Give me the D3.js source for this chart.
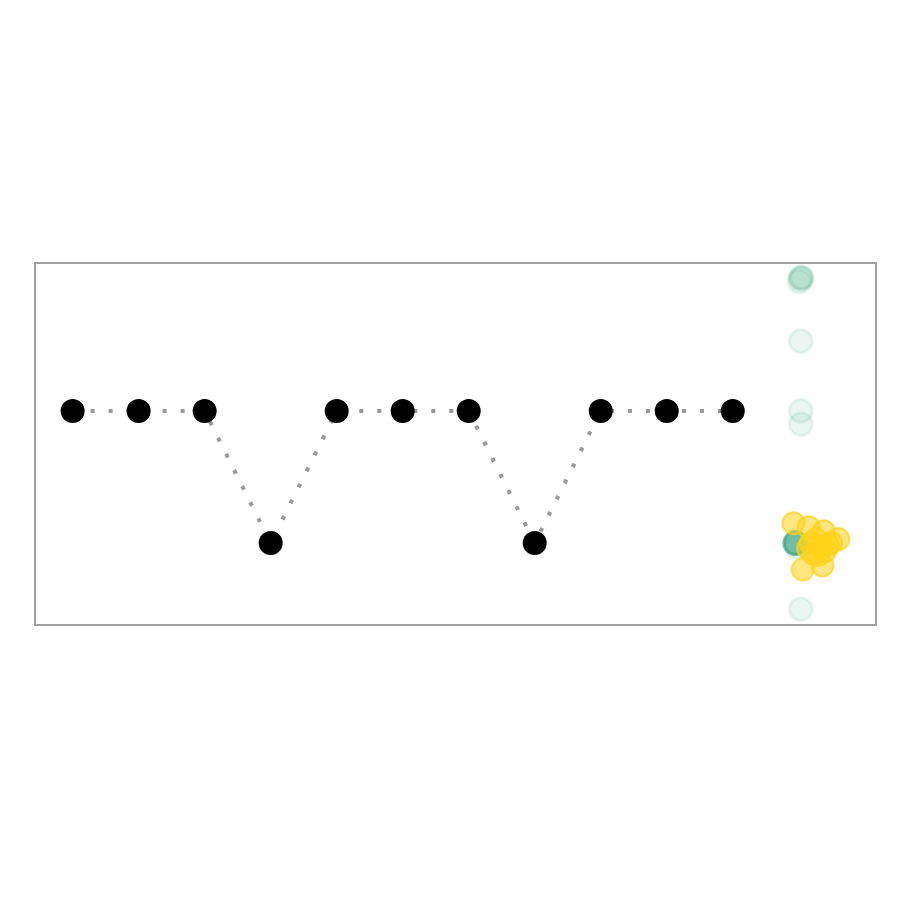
<!DOCTYPE html>
<html><head><meta charset="utf-8">
<script src="https://cdn.jsdelivr.net/npm/d3@7"></script>
<style>body{margin:0;background:#fff}</style>
</head><body>
<svg id="c" width="900" height="900"></svg>
<script>
// sequence of states (index -> level)
const seqIndex = [0,1,2,3,4,5,6,7,8,9,10];
const seqLevel = [1,1,1,0,1,1,1,0,1,1,1];
// teal distribution points at position 11
const tealX = [11.03,11.05,11.01,11.03,11.03,11.03,11.03,10.95,10.95,10.95,10.95,10.95,10.95,10.95,10.95,10.95,10.95,10.97,11.03];
const tealY = [2,2.01,1.98,2.01,1.53,1,0.9,0,0,0,0,0,0,0,0,0,0,-0.03,-0.5];
// yellow jittered points
const yellowX = [10.92,11.15,11.38,11.6,11.06,11.36,11.18,11.44,11.30,11.14,11.49,11.26,11.33,11.40,11.22];
const yellowY = [0.15,0.12,0.09,0.03,-0.2,-0.17,0.0,-0.015,-0.09,-0.04,0.0,0.03,-0.03,-0.06,-0.08];

const svg = d3.select('#c');
const pL=35, pR=876, pT=263, pB=625;
const x = d3.scaleLinear().domain([-0.57,12.17]).range([pL,pR]);
const y = d3.scaleLinear().domain([-0.62,2.12]).range([pB,pT]);

svg.append('rect').attr('x',pL).attr('y',pT).attr('width',pR-pL).attr('height',pB-pT)
  .attr('fill','none').attr('stroke','#a0a0a0').attr('stroke-width',2);

const pts = seqIndex.map((d,i)=>({x:d,y:seqLevel[i]}));
svg.append('path').datum(pts)
  .attr('d', d3.line().x(d=>x(d.x)).y(d=>y(d.y)))
  .attr('fill','none').attr('stroke','#999').attr('stroke-width',4)
  .attr('stroke-dasharray','4,14');
svg.selectAll('circle.seq').data(pts).enter().append('circle').attr('class','seq')
  .attr('cx',d=>x(d.x)).attr('cy',d=>y(d.y)).attr('r',12).attr('fill','#000');

svg.selectAll('circle.teal').data(tealY.map((v,i)=>({x:tealX[i],y:v}))).enter().append('circle')
  .attr('cx',d=>x(d.x)).attr('cy',d=>y(d.y)).attr('r',11.5)
  .attr('fill','#3eaa82').attr('fill-opacity',0.1)
  .attr('stroke','#3eaa82').attr('stroke-opacity',0.1).attr('stroke-width',3);

svg.selectAll('circle.yel').data(yellowY.map((v,i)=>({x:yellowX[i],y:v}))).enter().append('circle')
  .attr('cx',d=>x(d.x)).attr('cy',d=>y(d.y)).attr('r',11)
  .attr('fill','#ffd11a').attr('fill-opacity',0.55)
  .attr('stroke','#ffd11a').attr('stroke-opacity',0.7).attr('stroke-width',2);
</script>
</body></html>
